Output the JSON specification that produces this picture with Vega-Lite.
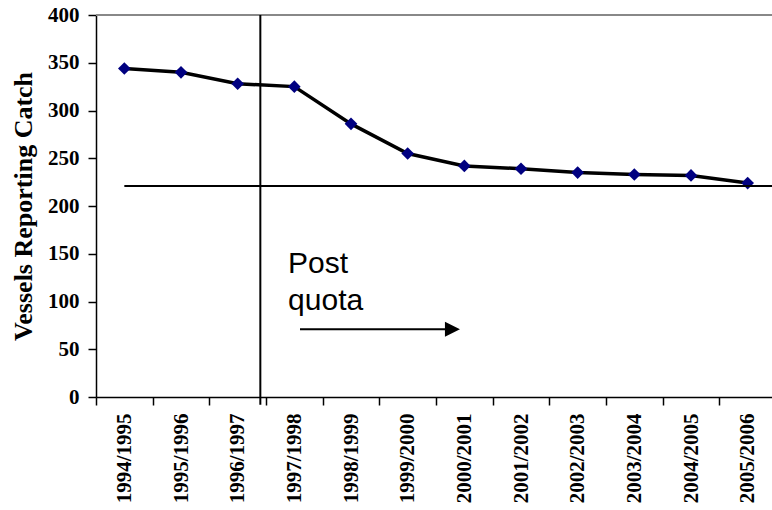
{
  "$schema": "https://vega.github.io/schema/vega-lite/v6.json",
  "width": 676,
  "height": 382,
  "autosize": "none",
  "padding": {"left": 96, "top": 15, "right": 0, "bottom": 113},
  "background": "white",
  "config": {
    "view": {"stroke": null},
    "axis": {
      "labelFont": "Liberation Serif",
      "labelFontWeight": "bold",
      "labelColor": "black",
      "titleFont": "Liberation Serif",
      "titleFontWeight": "bold",
      "titleColor": "black",
      "domainColor": "black",
      "tickColor": "black",
      "grid": false
    }
  },
  "datasets": {
    "catch": [
      {"season": "1994/1995", "vessels": 344},
      {"season": "1995/1996", "vessels": 340},
      {"season": "1996/1997", "vessels": 328},
      {"season": "1997/1998", "vessels": 325},
      {"season": "1998/1999", "vessels": 286},
      {"season": "1999/2000", "vessels": 255},
      {"season": "2000/2001", "vessels": 242},
      {"season": "2001/2002", "vessels": 239},
      {"season": "2002/2003", "vessels": 235},
      {"season": "2003/2004", "vessels": 233},
      {"season": "2004/2005", "vessels": 232},
      {"season": "2005/2006", "vessels": 224}
    ],
    "quota_start": [{"season": "1996/1997", "top": 400, "bottom": -8}],
    "reference_level": [{"from": "1994/1995", "to": "2005/2006", "vessels": 221}],
    "post_quota": [{"from": "1997/1998", "to": "2000/2001", "vessels": 71, "note": "Post\nquota", "note_level": 130}],
    "frame": [{"vessels": 400}]
  },
  "layer": [
    {
      "data": {"name": "frame"},
      "mark": {"type": "rule", "color": "#888888", "strokeWidth": 2},
      "encoding": {"y": {"field": "vessels", "type": "quantitative"}}
    },
    {
      "data": {"name": "catch"},
      "mark": {"type": "line", "color": "black", "strokeWidth": 3.5},
      "encoding": {
        "x": {
          "field": "season",
          "type": "nominal",
          "sort": null,
          "scale": {"range": [0, 680], "paddingInner": 0, "paddingOuter": 0},
          "axis": {
            "title": null,
            "labelAngle": -90,
            "labelFontSize": 21,
            "labelPadding": 8,
            "tickBand": "extent",
            "tickSize": 8,
            "tickWidth": 1.5,
            "domainWidth": 1.5
          }
        },
        "y": {
          "field": "vessels",
          "type": "quantitative",
          "scale": {"domain": [0, 400], "nice": false},
          "axis": {
            "title": "Vessels Reporting Catch",
            "titleFontSize": 26,
            "titlePadding": 11,
            "values": [0, 50, 100, 150, 200, 250, 300, 350, 400],
            "labelFontSize": 21,
            "labelPadding": 9,
            "tickSize": 8,
            "tickWidth": 1.5,
            "domainWidth": 1.5
          }
        }
      }
    },
    {
      "data": {"name": "catch"},
      "mark": {"type": "point", "shape": "diamond", "filled": true, "color": "#000080", "size": 160, "opacity": 1},
      "encoding": {
        "x": {"field": "season", "type": "nominal", "sort": null},
        "y": {"field": "vessels", "type": "quantitative"}
      }
    },
    {
      "data": {"name": "quota_start"},
      "mark": {"type": "rule", "color": "black", "strokeWidth": 2},
      "encoding": {
        "x": {"field": "season", "type": "nominal", "sort": null, "bandPosition": 0.9},
        "y": {"field": "top", "type": "quantitative"},
        "y2": {"field": "bottom"}
      }
    },
    {
      "data": {"name": "reference_level"},
      "mark": {"type": "rule", "color": "black", "strokeWidth": 2},
      "encoding": {
        "x": {"field": "from", "type": "nominal", "sort": null, "bandPosition": 0.5},
        "x2": {"field": "to", "bandPosition": 1},
        "y": {"field": "vessels", "type": "quantitative"}
      }
    },
    {
      "data": {"name": "post_quota"},
      "mark": {"type": "rule", "color": "black", "strokeWidth": 2},
      "encoding": {
        "x": {"field": "from", "type": "nominal", "sort": null, "bandPosition": 0.6},
        "x2": {"field": "to", "bandPosition": 0.2},
        "y": {"field": "vessels", "type": "quantitative"}
      }
    },
    {
      "data": {"name": "post_quota"},
      "mark": {"type": "point", "shape": "M-1,-1L1,0L-1,1Z", "filled": true, "color": "black", "size": 225, "opacity": 1},
      "encoding": {
        "x": {"field": "to", "type": "nominal", "sort": null, "bandPosition": 0.29},
        "y": {"field": "vessels", "type": "quantitative"}
      }
    },
    {
      "data": {"name": "post_quota"},
      "mark": {"type": "text", "font": "Liberation Sans", "fontSize": 30, "align": "left", "baseline": "alphabetic", "lineBreak": "\n", "lineHeight": 37, "color": "black"},
      "encoding": {
        "x": {"field": "from", "type": "nominal", "sort": null, "bandPosition": 0.39},
        "y": {"field": "note_level", "type": "quantitative"},
        "text": {"field": "note"}
      }
    }
  ]
}
